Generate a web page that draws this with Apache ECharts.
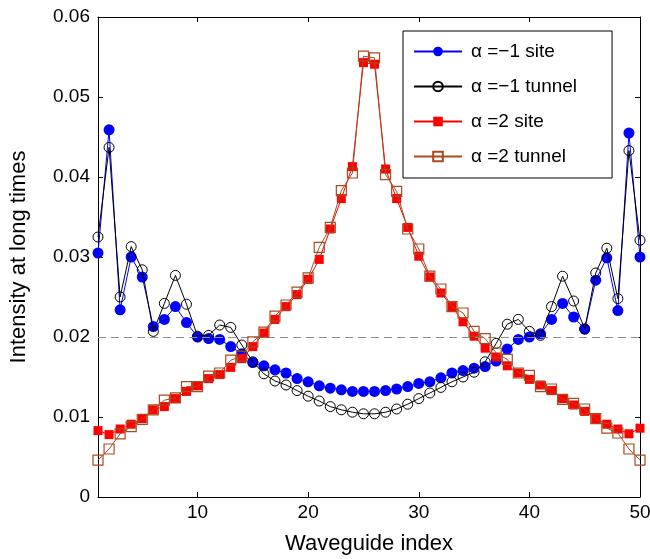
<!DOCTYPE html>
<html>
<head>
<meta charset="utf-8">
<script src="https://cdn.jsdelivr.net/npm/echarts@6/dist/echarts.min.js"></script>
<style>
  html, body { margin: 0; padding: 0; background: #fff; }
  #chart { width: 650px; height: 559px; }
</style>
</head>
<body>
<div id="chart"></div>
<script>
// Waveguide positions 1..50
const waveguideIndex = [1,2,3,4,5,6,7,8,9,10,11,12,13,14,15,16,17,18,19,20,
  21,22,23,24,25,26,27,28,29,30,31,32,33,34,35,36,37,38,39,40,
  41,42,43,44,45,46,47,48,49,50];

// Long-time intensity, alpha = -1, site excitation
const siteMinus1 = [0.0305,0.0459,0.0234,0.0300,0.0275,0.0213,0.0222,0.0238,0.0218,0.0200,
  0.0198,0.0197,0.0188,0.0179,0.0168,0.0164,0.0159,0.0155,0.0148,0.0144,
  0.0139,0.0136,0.0134,0.0132,0.0132,0.0132,0.0133,0.0135,0.0138,0.0142,
  0.0144,0.0149,0.0155,0.0158,0.0161,0.0163,0.0170,0.0185,0.0197,0.0200,
  0.0204,0.0222,0.0242,0.0225,0.0210,0.0271,0.0299,0.0233,0.0455,0.0300];

// alpha = -1, tunnel excitation
const tunnelMinus1 = [0.0325,0.0437,0.0250,0.0313,0.0284,0.0207,0.0242,0.0277,0.0241,0.0201,
  0.0202,0.0215,0.0212,0.0190,0.0169,0.0154,0.0145,0.0140,0.0133,0.0126,
  0.0120,0.0113,0.0109,0.0106,0.0104,0.0104,0.0106,0.0110,0.0116,0.0123,
  0.0130,0.0137,0.0144,0.0150,0.0156,0.0169,0.0192,0.0216,0.0222,0.0207,
  0.0202,0.0238,0.0276,0.0245,0.0210,0.0280,0.0311,0.0248,0.0433,0.0321];

// alpha = 2, site excitation
const site2 = [0.0083,0.0078,0.0085,0.0091,0.0098,0.0109,0.0113,0.0123,0.0132,0.0139,
  0.0148,0.0153,0.0162,0.0173,0.0188,0.0205,0.0222,0.0238,0.0253,0.0272,
  0.0297,0.0335,0.0373,0.0413,0.0543,0.0541,0.0410,0.0373,0.0337,0.0301,
  0.0275,0.0255,0.0238,0.0219,0.0201,0.0186,0.0175,0.0164,0.0155,0.0147,
  0.0140,0.0133,0.0123,0.0115,0.0107,0.0098,0.0091,0.0085,0.0079,0.0086];

// alpha = 2, tunnel excitation
const tunnel2 = [0.0046,0.0060,0.0079,0.0088,0.0097,0.0109,0.0121,0.0124,0.0138,0.0138,
  0.0151,0.0155,0.0171,0.0176,0.0194,0.0206,0.0226,0.0240,0.0256,0.0274,
  0.0312,0.0337,0.0383,0.0405,0.0551,0.0549,0.0403,0.0382,0.0335,0.0310,
  0.0276,0.0260,0.0238,0.0230,0.0207,0.0198,0.0180,0.0172,0.0155,0.0152,
  0.0138,0.0135,0.0122,0.0117,0.0110,0.0098,0.0086,0.0080,0.0060,0.0046];

const seriesNames = ['\u03b1 =\u22121 site', '\u03b1 =\u22121 tunnel', '\u03b1 =2 site', '\u03b1 =2 tunnel'];
const xTickValues = [10, 20, 30, 40, 50];
const referenceLevel = 0.02;

const FONT = '"Liberation Sans", Arial, Helvetica, sans-serif';
const BROWN = '#a94a20';

const pairs = vals => vals.map((v, i) => [waveguideIndex[i], v]);

const chart = echarts.init(document.getElementById('chart'), null, { renderer: 'canvas' });

const frameAxisCommon = {
  axisLine: { show: true, onZero: false, lineStyle: { color: '#000', width: 1 } },
  axisTick: { show: true, inside: true, length: 5, lineStyle: { color: '#000', width: 1 } },
  splitLine: { show: false }
};

chart.setOption({
  animation: false,
  backgroundColor: '#fff',
  textStyle: { fontFamily: FONT },
  grid: { left: 98, right: 10, top: 17, bottom: 62, containLabel: false, outerBoundsMode: 'none' },
  legend: {
    orient: 'vertical',
    left: 403,
    top: 31,
    data: seriesNames,
    itemWidth: 48,
    itemHeight: 12,
    itemGap: 16,
    padding: [11, 35, 12, 10],
    borderColor: '#000',
    borderWidth: 1,
    backgroundColor: '#fff',
    textStyle: { fontFamily: FONT, fontSize: 19, color: '#000', padding: [0, 0, 0, 4] },
    selectedMode: false
  },
  xAxis: [
    Object.assign({}, frameAxisCommon, {
      type: 'value', min: 1, max: 50, position: 'bottom',
      name: 'Waveguide index', nameLocation: 'middle', nameGap: 36,
      nameTextStyle: { fontFamily: FONT, fontSize: 22, color: '#000' },
      axisTick: Object.assign({}, frameAxisCommon.axisTick, { customValues: xTickValues }),
      axisLabel: { customValues: xTickValues, fontFamily: FONT, fontSize: 19, color: '#000', margin: 6 }
    }),
    Object.assign({}, frameAxisCommon, {
      type: 'value', min: 1, max: 50, position: 'top',
      axisTick: Object.assign({}, frameAxisCommon.axisTick, { customValues: xTickValues }),
      axisLabel: { show: false }
    })
  ],
  yAxis: [
    Object.assign({}, frameAxisCommon, {
      type: 'value', min: 0, max: 0.06, interval: 0.01, position: 'left',
      name: 'Intensity at long times', nameLocation: 'middle', nameGap: 68,
      nameTextStyle: { fontFamily: FONT, fontSize: 22, color: '#000' },
      axisLabel: {
        fontFamily: FONT, fontSize: 19, color: '#000', margin: 8,
        formatter: v => (v === 0 ? '0' : v.toFixed(2))
      }
    }),
    Object.assign({}, frameAxisCommon, {
      type: 'value', min: 0, max: 0.06, interval: 0.01, position: 'right',
      axisLabel: { show: false }
    })
  ],
  series: [
    {
      name: seriesNames[0], type: 'line', data: pairs(siteMinus1), clip: false,
      symbol: 'circle', symbolSize: 11,
      itemStyle: { color: '#0000ff' },
      lineStyle: { color: '#0000ff', width: 1 },
      markLine: {
        silent: true, symbol: 'none', label: { show: false },
        lineStyle: { color: '#8c8c8c', type: [8, 5], width: 1 },
        data: [{ yAxis: referenceLevel }]
      },
      z: 2
    },
    {
      name: seriesNames[1], type: 'line', data: pairs(tunnelMinus1), clip: false,
      symbol: 'circle', symbolSize: 10,
      itemStyle: { color: 'rgba(255,255,255,0)', borderColor: '#000', borderWidth: 1 },
      lineStyle: { color: '#000', width: 1 },
      z: 3
    },
    {
      name: seriesNames[2], type: 'line', data: pairs(site2), clip: false,
      symbol: 'rect', symbolSize: 9,
      itemStyle: { color: '#ff0000' },
      lineStyle: { color: '#ff0000', width: 1 },
      z: 4
    },
    {
      name: seriesNames[3], type: 'line', data: pairs(tunnel2), clip: false,
      symbol: 'rect', symbolSize: 10,
      itemStyle: { color: 'rgba(255,255,255,0)', borderColor: BROWN, borderWidth: 1.2 },
      lineStyle: { color: BROWN, width: 1 },
      z: 5
    }
  ]
});
</script>
</body>
</html>
